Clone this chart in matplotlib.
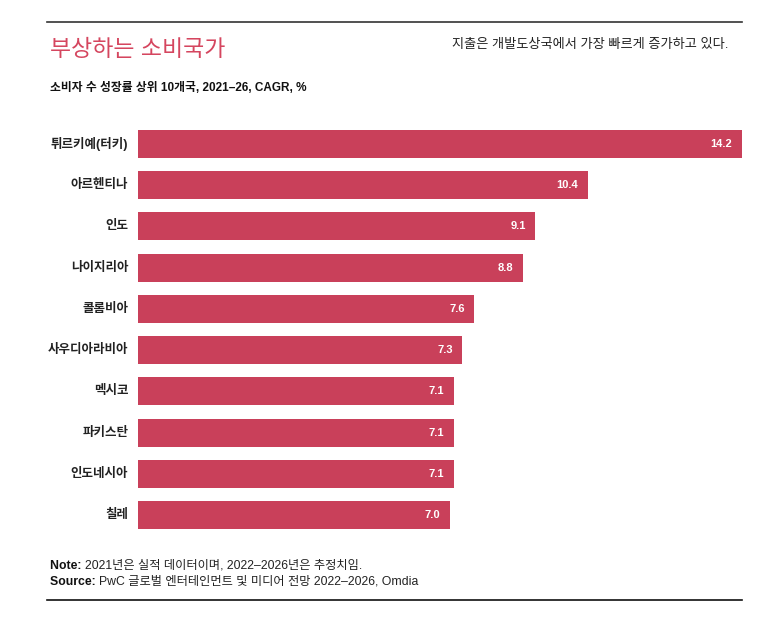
import numpy as np
import matplotlib.pyplot as plt

plt.rcParams['font.family'] = ['Liberation Sans', 'Noto Sans CJK KR', 'DejaVu Sans']

# 데이터
countries = ['튀르키예(터키)', '아르헨티나', '인도', '나이지리아', '콜롬비아',
             '사우디아라비아', '멕시코', '파키스탄', '인도네시아', '칠레']
values = [14.2, 10.4, 9.1, 8.8, 7.6, 7.3, 7.1, 7.1, 7.1, 7.0]

bar_color = '#c9405a'
title_color = '#d5465f'

W, H = 782, 620
fig = plt.figure(figsize=(W / 100, H / 100), dpi=100)

# 막대 영역 (픽셀 좌표 -> 비율)
left, right, top, bottom = 138, 742, 123, 536
ax = fig.add_axes([left / W, 1 - bottom / H, (right - left) / W, (bottom - top) / H])

x0 = -0.7  # 막대 시작 위치
y = np.arange(len(countries))
ax.barh(y, np.array(values) - x0, left=x0, height=0.68, color=bar_color)
ax.set_xlim(x0, 14.2)
ax.set_ylim(len(countries) - 0.5, -0.5)
ax.axis('off')

for yi, v, name in zip(y, values, countries):
    ax.annotate(f'{v:.1f}', xy=(v, yi), xytext=(-7, 0), textcoords='offset points',
                ha='right', va='center', color='white', fontsize=8, fontweight='bold')
    ax.annotate(name, xy=(0, yi), xycoords=('axes fraction', 'data'),
                xytext=(-7, 0), textcoords='offset points', ha='right', va='center',
                fontsize=9, fontweight='bold', color='#222222', annotation_clip=False)

# 제목
fig.text(50 / W, 1 - 49 / H, '부상하는 소비국가', fontsize=16.5, color=title_color,
         ha='left', va='center')
fig.text(728 / W, 1 - 45 / H, '지출은 개발도상국에서 가장 빠르게 증가하고 있다.', fontsize=9.5,
         color='#222222', ha='right', va='center')
fig.text(50 / W, 1 - 88 / H, '소비자 수 성장률 상위 10개국, 2021–26, CAGR, %', fontsize=8.5,
         fontweight='bold', color='#111111', ha='left', va='center')

# 주석
t1 = fig.text(50 / W, 1 - 566 / H, 'Note: ', fontsize=8.8, fontweight='bold',
              color='#111111', ha='left', va='center')
ax.annotate('2021년은 실적 데이터이며, 2022–2026년은 추정치임.', xy=(1, 0.5), xycoords=t1,
            ha='left', va='center', fontsize=8.8, color='#222222', annotation_clip=False)
t2 = fig.text(50 / W, 1 - 582 / H, 'Source: ', fontsize=8.8, fontweight='bold',
              color='#111111', ha='left', va='center')
ax.annotate('PwC 글로벌 엔터테인먼트 및 미디어 전망 2022–2026, Omdia', xy=(1, 0.5), xycoords=t2,
            ha='left', va='center', fontsize=8.8, color='#222222', annotation_clip=False)

# 상단/하단 선
fig.add_artist(plt.Line2D([47 / W, 742 / W], [1 - 22 / H, 1 - 22 / H], color='#333333', lw=1.2))
fig.add_artist(plt.Line2D([47 / W, 742 / W], [1 - 600 / H, 1 - 600 / H], color='#111111', lw=1.2))

plt.savefig('out.png', dpi=100)
